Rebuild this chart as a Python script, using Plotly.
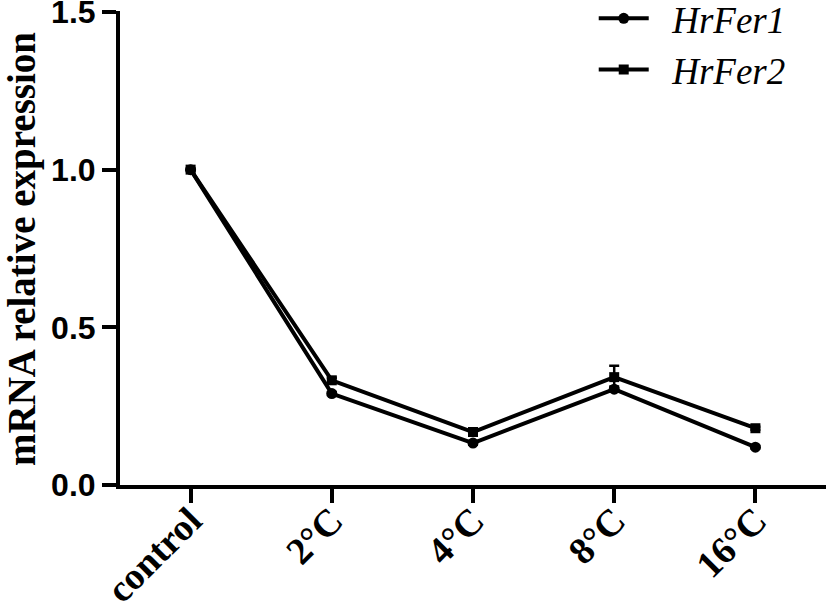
import plotly.graph_objects as go

categories = ["control", "2°C", "4°C", "8°C", "16°C"]
hrfer1 = [1.0, 0.29, 0.133, 0.304, 0.12]
hrfer2 = [1.0, 0.332, 0.168, 0.342, 0.18]
hrfer1_err = [0.0, 0.005, 0.005, 0.008, 0.004]
hrfer2_err = [0.0, 0.008, 0.006, 0.036, 0.005]
y_ticks = [0, 0.5, 1.0, 1.5]
y_ticktext = ["0.0", "0.5", "1.0", "1.5"]
names = ["HrFer1", "HrFer2"]

pad = "\u00a0\u00a0"

fig = go.Figure()
fig.add_trace(go.Scatter(
    x=categories, y=hrfer1, name=pad + names[0], mode="lines+markers",
    line=dict(color="black", width=4),
    marker=dict(symbol="circle", size=11, color="black"),
    error_y=dict(type="data", array=hrfer1_err, visible=True, color="black", thickness=2.5, width=5),
    legendgroup="a",
))
fig.add_trace(go.Scatter(
    x=categories, y=hrfer2, name=pad + names[1], mode="lines+markers",
    line=dict(color="black", width=4),
    marker=dict(symbol="square", size=10, color="black"),
    error_y=dict(type="data", array=hrfer2_err, visible=True, color="black", thickness=2.5, width=5),
    legendgroup="b",
))

fig.update_layout(
    width=826, height=611,
    margin=dict(l=120, r=0, t=11, b=126, autoexpand=False),
    paper_bgcolor="white", plot_bgcolor="white",
    showlegend=True,
    legend=dict(
        x=0.671, y=1.049, xanchor="left", yanchor="top",
        font=dict(family="Liberation Serif", size=37, style="italic", color="black"),
        bgcolor="rgba(0,0,0,0)", tracegroupgap=0, itemwidth=50,
    ),
    xaxis=dict(
        type="category", range=[-0.5, 4.5],
        showline=True, linecolor="black", linewidth=4,
        ticks="outside", ticklen=14, tickwidth=4, tickcolor="black",
        tickangle=-45, ticklabelstandoff=-20, automargin=False,
        tickfont=dict(family="Liberation Serif", size=38, color="black", weight="bold"),
        showgrid=False, zeroline=False, fixedrange=True,
    ),
    yaxis=dict(
        range=[0, 1.503], tickvals=y_ticks, ticktext=y_ticktext,
        showline=True, linecolor="black", linewidth=4, automargin=False,
        ticks="outside", ticklen=14, tickwidth=4, tickcolor="black",
        ticklabeloverflow="allow",
        tickfont=dict(family="Liberation Sans", size=32, color="black", weight="bold"),
        showgrid=False, zeroline=False, fixedrange=True,
    ),
    annotations=[dict(
        text="<b>mRNA relative expression</b>", textangle=-90,
        xref="paper", yref="paper", x=(22 - 120) / 706, y=(485 - 249) / 474,
        xanchor="center", yanchor="middle", showarrow=False,
        font=dict(family="Liberation Serif", size=39, color="black"),
    )],
)

fig.write_html("out.html", config={"displayModeBar": False},
               post_script="document.body.style.margin='0px';")
